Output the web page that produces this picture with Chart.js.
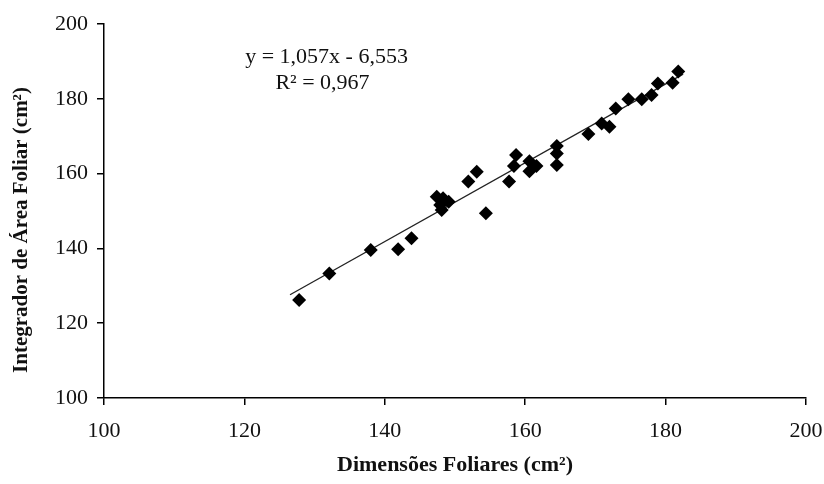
<!DOCTYPE html>
<html>
<head>
<meta charset="utf-8">
<script src="https://cdn.jsdelivr.net/npm/chart.js@4/dist/chart.umd.min.js"></script>
<style>
html,body{margin:0;padding:0;background:#fff;}
#wrap{width:824px;height:484px;position:relative;}
</style>
</head>
<body>
<div id="wrap"><canvas id="c" width="824" height="484"></canvas></div>
<script>
const xValues = [127.8,132.1,138.0,141.9,143.8,147.4,148.3,149.1,147.9,148.1,151.9,153.1,154.4,157.7,158.7,158.4,160.6,161.6,160.6,164.5,164.5,164.5,169.0,170.9,172.0,172.9,174.7,176.6,178.0,178.9,181.0,181.8];
const yValues = [126.2,133.3,139.6,139.8,142.7,153.8,153.4,152.5,151.6,150.3,157.9,160.5,149.4,157.9,165.0,162.0,163.3,162.0,160.6,167.4,165.4,162.3,170.6,173.4,172.5,177.4,179.9,179.9,181.0,184.1,184.3,187.3];
const trendX = [126.5, 182.5];
const trendY = [127.6, 186.6];
const xTicks = [100,120,140,160,180,200];
const yTicks = [100,120,140,160,180,200];
const equationLines = ["y = 1,057x - 6,553", "R² = 0,967"];
const xTitle = "Dimensões Foliares (cm²)";
const yTitle = "Integrador de Área Foliar (cm²)";

const FONT = "'Liberation Serif', 'Times New Roman', serif";

const textPlugin = {
  id: 'texts',
  afterDatasetsDraw(chart) {
    const ctx = chart.ctx;
    const xs = chart.scales.x, ys = chart.scales.y;
    ctx.save();
    ctx.font = "22px " + FONT;
    ctx.fillStyle = "#111";
    ctx.textAlign = "center";
    ctx.textBaseline = "middle";
    const cx = xs.getPixelForValue(131.7);
    ctx.fillText(equationLines[0], cx, ys.getPixelForValue(191.0));
    ctx.fillText(equationLines[1], cx - 4, ys.getPixelForValue(184.2));
    ctx.restore();
    // y axis title
    ctx.save();
    ctx.font = "bold 21px " + FONT;
    ctx.fillStyle = "#111";
    ctx.textAlign = "center";
    ctx.textBaseline = "middle";
    ctx.translate(22, 230);
    ctx.rotate(-Math.PI / 2);
    ctx.fillText(yTitle, 0, 0);
    ctx.restore();
  }
};

new Chart(document.getElementById('c'), {
  data: {
    datasets: [
      {
        type: 'line',
        data: trendX.map((x,i)=>({x:x,y:trendY[i]})),
        borderColor: '#222',
        borderWidth: 1.3,
        pointRadius: 0,
        fill: false,
        order: 2
      },
      {
        type: 'scatter',
        data: xValues.map((x,i)=>({x:x,y:yValues[i]})),
        pointStyle: 'rectRot',
        pointRadius: 7,
        pointBackgroundColor: '#000',
        pointBorderColor: '#000',
        pointBorderWidth: 0,
        order: 1
      }
    ]
  },
  options: {
    responsive: false,
    animation: false,
    events: [],
    layout: { padding: { top: 24, right: 18, left: 0, bottom: 0 } },
    plugins: { legend: { display: false }, tooltip: { enabled: false } },
    scales: {
      x: {
        type: 'linear',
        min: 100, max: 200,
        afterBuildTicks: s => { s.ticks = xTicks.map(v=>({value:v})); },
        afterFit: s => { s.height = 86; s.paddingLeft = 0; s.paddingRight = 0; },
        border: { display: true, color: '#000', width: 1.5 },
        grid: { drawOnChartArea: false, drawTicks: true, tickLength: 7, color: '#000', lineWidth: 1.5 },
        ticks: { color: '#111', font: { family: FONT, size: 22 }, padding: 13, maxRotation: 0 },
        title: { display: true, text: xTitle, color: '#111', font: { family: FONT, size: 22, weight: 'bold' }, padding: { top: 0, bottom: 5 } }
      },
      y: {
        type: 'linear',
        min: 100, max: 200,
        afterBuildTicks: s => { s.ticks = yTicks.map(v=>({value:v})); },
        afterFit: s => { s.width = 104; s.paddingTop = 0; s.paddingBottom = 0; },
        border: { display: true, color: '#000', width: 1.5 },
        grid: { drawOnChartArea: false, drawTicks: true, tickLength: 7, color: '#000', lineWidth: 1.5 },
        ticks: { color: '#111', font: { family: FONT, size: 22 }, padding: 9 },
        title: { display: false }
      }
    }
  },
  plugins: [textPlugin]
});
</script>
</body>
</html>
